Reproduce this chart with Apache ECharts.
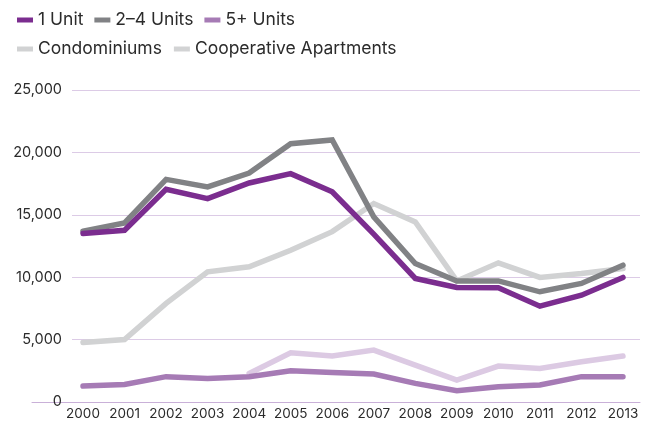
<!DOCTYPE html>
<html>
<head>
<meta charset="UTF-8">
<title>Housing units</title>
<script src="https://cdn.jsdelivr.net/npm/echarts@6/dist/echarts.min.js"></script>
<style>
  html, body { margin: 0; padding: 0; background: #fff; }
  #chart { width: 649px; height: 423px; }
</style>
</head>
<body>
<div id="chart"></div>
<script>
// data
var years = [2000, 2001, 2002, 2003, 2004, 2005, 2006, 2007, 2008, 2009, 2010, 2011, 2012, 2013];
var oneUnit = [13500, 13760, 17040, 16300, 17550, 18300, 16850, 13450, 9900, 9170, 9150, 7680, 8560, 9980];
var twoToFour = [13680, 14350, 17840, 17230, 18350, 20700, 21000, 14830, 11100, 9700, 9700, 8830, 9500, 10960];
var fivePlus = [1280, 1410, 2030, 1890, 2030, 2510, 2370, 2240, 1490, 900, 1230, 1360, 2030, 2030];
var condos = [4770, 5010, 7900, 10430, 10830, 12160, 13650, 15900, 14430, 9700, 11150, 9980, 10300, 10700];
var coops = [null, null, null, null, 2290, 3950, 3680, 4160, 2960, 1760, 2880, 2690, 3220, 3680];
var yTicks = [0, 5000, 10000, 15000, 20000, 25000];

function pairs(vals) {
  var out = [];
  for (var i = 0; i < years.length; i++) {
    if (vals[i] != null) out.push([years[i], vals[i]]);
  }
  return out;
}

var font = 'Inter, "Noto Sans", sans-serif';
var txt = '#2b2b2b';

function line(name, vals, color, width) {
  return {
    name: name,
    type: 'line',
    xAxisIndex: 0,
    yAxisIndex: 0,
    data: pairs(vals),
    symbol: 'none',
    silent: true,
    color: color,
    lineStyle: { color: color, width: width || 5.5, cap: 'round', join: 'miter' }
  };
}

var chart = echarts.init(document.getElementById('chart'), null, { renderer: 'canvas' });
chart.setOption({
  animation: false,
  backgroundColor: '#fff',
  textStyle: { fontFamily: font },
  legend: [{
    left: 12, top: 6,
    icon: 'rect', itemWidth: 16, itemHeight: 5, itemGap: 11,
    textStyle: { fontSize: 17.5, color: txt, fontFamily: font },
    data: ['1 Unit', '2–4 Units', '5+ Units']
  }, {
    left: 12, top: 35,
    icon: 'rect', itemWidth: 16, itemHeight: 5, itemGap: 12,
    textStyle: { fontSize: 17.5, color: txt, fontFamily: font },
    data: ['Condominiums', { name: 'Cooperative Apartments', itemStyle: { color: '#d2d3d4' } }]
  }],
  grid: [
    { left: 72, right: 9, top: 90, bottom: 21, containLabel: false, outerBoundsMode: 'none' },
    { left: 32, right: 9, top: 90, bottom: 21, containLabel: false, outerBoundsMode: 'none' }
  ],
  xAxis: [{
    type: 'value', gridIndex: 0,
    min: 1999.735, max: 2013.41,
    axisLine: { show: false }, axisTick: { show: false }, splitLine: { show: false },
    axisLabel: {
      customValues: years,
      formatter: function (v) { return String(Math.round(v)); },
      fontSize: 13.5, color: txt, fontFamily: font, margin: 5
    }
  }, {
    type: 'value', gridIndex: 1, min: 0, max: 1,
    axisLine: { show: true, lineStyle: { color: '#c9b0d8', width: 1 } },
    axisTick: { show: false }, axisLabel: { show: false }, splitLine: { show: false }
  }],
  yAxis: [{
    type: 'value', gridIndex: 0,
    min: 0, max: 25000, interval: 5000,
    axisLine: { show: false }, axisTick: { show: false },
    splitLine: { lineStyle: { color: '#dccbe6', width: 1 } },
    axisLabel: {
      customValues: yTicks,
      formatter: function (v) { return v.toLocaleString('en-US'); },
      fontSize: 14.5, color: txt, fontFamily: font, margin: 10
    }
  }, {
    type: 'value', gridIndex: 1, min: 0, max: 1, show: false
  }],
  series: [
    line('Condominiums', condos, '#d1d2d3'),
    line('Cooperative Apartments', coops, '#dccae3'),
    line('5+ Units', fivePlus, '#a67bb5'),
    line('2–4 Units', twoToFour, '#818285'),
    line('1 Unit', oneUnit, '#7b2d8f')
  ]
});
</script>
</body>
</html>
